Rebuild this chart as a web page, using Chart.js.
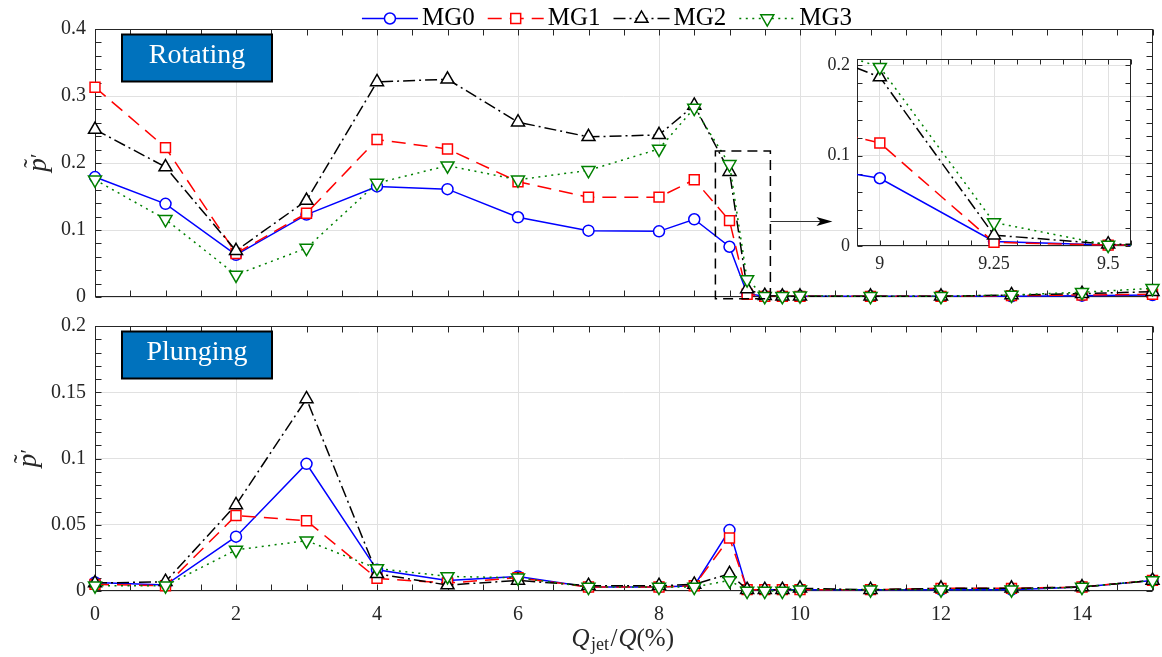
<!DOCTYPE html>
<html><head><meta charset="utf-8">
<script src="https://cdn.jsdelivr.net/npm/chart.js@4.4.1/dist/chart.umd.min.js"></script>
<style>
html,body{margin:0;padding:0;background:#fff;}
#wrap{position:relative;width:1162px;height:657px;overflow:hidden;background:#fff;}
canvas{position:absolute;}
</style></head><body>
<div id="wrap">
<canvas id="top" width="1162" height="318" style="left:0;top:0;width:1162px;height:318px"></canvas>
<canvas id="bot" width="1162" height="352" style="left:0;top:305px;width:1162px;height:352px"></canvas>
<canvas id="ins" width="365" height="240" style="left:790px;top:40px;width:365px;height:240px"></canvas>
</div>
<script>
// ---------------- data ----------------
const Q_JET = [0,1,2,3,4,5,6,7,8,8.5,9,9.25,9.5,9.75,10,11,12,13,14,15];
const SERIES_NAMES = ['MG0','MG1','MG2','MG3'];

const ROT_MG0 = [0.179,0.139,0.063,0.123,0.165,0.161,0.119,0.099,0.098,0.116,0.075,0.005,0.001,0.001,0.001,0.001,0.001,0.001,0.002,0.003];
const ROT_MG1 = [0.313,0.223,0.065,0.125,0.235,0.221,0.172,0.149,0.149,0.175,0.114,0.004,0.001,0.001,0.001,0.001,0.001,0.002,0.003,0.004];
const ROT_MG2 = [0.250,0.194,0.069,0.144,0.321,0.325,0.261,0.239,0.242,0.286,0.187,0.012,0.002,0.001,0.001,0.001,0.001,0.003,0.005,0.008];
const ROT_MG3 = [0.175,0.116,0.033,0.073,0.170,0.196,0.175,0.189,0.221,0.282,0.198,0.026,0.001,0.001,0.002,0.001,0.001,0.003,0.007,0.013];

const PLU_MG0 = [0.0065,0.0045,0.041,0.096,0.016,0.008,0.011,0.003,0.003,0.004,0.046,0.001,0.001,0.001,0.001,0.001,0.001,0.001,0.003,0.008];
const PLU_MG1 = [0.005,0.004,0.057,0.053,0.0095,0.006,0.010,0.003,0.003,0.004,0.040,0.001,0.001,0.001,0.001,0.001,0.002,0.002,0.003,0.008];
const PLU_MG2 = [0.006,0.007,0.065,0.145,0.013,0.0045,0.008,0.004,0.004,0.005,0.013,0.001,0.001,0.001,0.002,0.001,0.002,0.002,0.003,0.008];
const PLU_MG3 = [0.004,0.004,0.031,0.038,0.017,0.011,0.010,0.003,0.003,0.003,0.008,0.000,0.000,0.000,0.001,0.001,0.001,0.001,0.003,0.008];

const X_TICKS = [0,2,4,6,8,10,12,14];
const X_LABELS = ['0','2','4','6','8','10','12','14'];
const ROT_Y_TICKS = [0,0.1,0.2,0.3,0.4];
const ROT_Y_LABELS = ['0','0.1','0.2','0.3','0.4'];
const PLU_Y_TICKS = [0,0.05,0.1,0.15,0.2];
const PLU_Y_LABELS = ['0','0.05','0.1','0.15','0.2'];
const INSET_X_TICKS = [9,9.25,9.5];
const INSET_X_LABELS = ['9','9.25','9.5'];
const INSET_Y_TICKS = [0,0.1,0.2];
const INSET_Y_LABELS = ['0','0.1','0.2'];

const PANEL_TITLES = ['Rotating','Plunging'];
// zoom box (data units of the top panel) and arrow
const ZOOM_BOX = {x0: 8.8, x1: 9.58, y0: -0.0025, y1: 0.218};
const ZOOM_ARROW = {x0: 9.58, x1: 10.46, y: 0.113};

// ---------------- styles ----------------
const FONT = "'Liberation Serif', 'Times New Roman', serif";
const AXIS_COLOR = '#262626';
const GRID_COLOR = '#e1e1e1';
const STYLES = [
  {color:'#0000FF', dash:[],           point:'circle',   radius:5.5, rot:0},
  {color:'#FF0000', dash:[14,8],       point:'rect',     radius:7,   rot:0},
  {color:'#000000', dash:[12,4,2,4],   point:'triangle', radius:7.5, rot:0},
  {color:'#008000', dash:[2,4.5],      point:'triangle', radius:7.5, rot:180}
];

Chart.defaults.font.family = FONT;
Chart.defaults.color = AXIS_COLOR;

function buildDatasets(valuesList, clip) {
  return STYLES.map((s, i) => ({
    label: SERIES_NAMES[i],
    data: Q_JET.map((x, j) => ({x: x, y: valuesList[i][j]})),
    borderColor: s.color, backgroundColor: '#fff', borderWidth: 1.5, borderDash: s.dash,
    pointStyle: s.point, pointRadius: s.radius, pointRotation: s.rot,
    pointBorderColor: s.color, pointBackgroundColor: '#fff', pointBorderWidth: 1.5,
    tension: 0, fill: false, clip: clip, order: 3 - i
  }));
}

function linScale(min, max, ticks, labels, o) {
  return {
    type: 'linear', min: min, max: max,
    afterBuildTicks: s => { s.ticks = ticks.map(v => ({value: v})); },
    afterFit: s => { if (o.size != null) { if (s.isHorizontal()) s.height = o.size; else s.width = o.size; } },
    grid: {color: GRID_COLOR, lineWidth: 1, drawTicks: false},
    border: {display: false},
    ticks: {
      display: o.showLabels !== false, autoSkip: false, maxRotation: 0, minRotation: 0,
      padding: o.padding || 8, color: AXIS_COLOR,
      font: {family: FONT, size: o.fontSize || 20},
      callback: (v) => { const k = ticks.indexOf(v); return k >= 0 ? labels[k] : ''; }
    }
  };
}

function drawFrame(chart, xMinor, yMinor, len) {
  const ctx = chart.ctx, a = chart.chartArea, xs = chart.scales.x, ys = chart.scales.y;
  ctx.save();
  ctx.strokeStyle = AXIS_COLOR; ctx.lineWidth = 1; ctx.setLineDash([]);
  const L = Math.round(a.left) + 0.5, R = Math.round(a.right) - 0.5;
  const T = Math.round(a.top) + 0.5, B = Math.round(a.bottom) - 0.5;
  ctx.strokeRect(L, T, R - L, B - T);
  ctx.beginPath();
  let first = Math.ceil(xs.min / xMinor - 1e-6) * xMinor;
  for (let i = 0, v = first; v <= xs.max + 1e-9; i++, v = first + i * xMinor) {
    const px = Math.round(xs.getPixelForValue(v)) + 0.5;
    ctx.moveTo(px, B); ctx.lineTo(px, B - len);
    ctx.moveTo(px, T); ctx.lineTo(px, T + len);
  }
  first = Math.ceil(ys.min / yMinor - 1e-6) * yMinor;
  for (let i = 0, v = first; v <= ys.max + 1e-9; i++, v = first + i * yMinor) {
    const py = Math.round(ys.getPixelForValue(v)) + 0.5;
    ctx.moveTo(L, py); ctx.lineTo(L + len, py);
    ctx.moveTo(R, py); ctx.lineTo(R - len, py);
  }
  ctx.stroke();
  ctx.restore();
}

function drawTag(chart, text) {
  const ctx = chart.ctx, a = chart.chartArea;
  const x = a.left + 27, y = a.top + 5.5, w = 150, h = 47;
  ctx.save();
  ctx.fillStyle = '#0072BD';
  ctx.fillRect(x, y, w, h);
  ctx.strokeStyle = '#000'; ctx.lineWidth = 2; ctx.setLineDash([]);
  ctx.strokeRect(x, y, w, h);
  ctx.fillStyle = '#fff';
  ctx.font = '28px ' + FONT;
  ctx.textAlign = 'center'; ctx.textBaseline = 'alphabetic';
  ctx.fillText(text, x + w / 2, y + 28.5);
  ctx.restore();
}

function drawYTitle(chart, dx) {
  const ctx = chart.ctx, a = chart.chartArea;
  const bx = a.left + dx, cy = (a.top + a.bottom) / 2 + 2;
  ctx.save();
  ctx.translate(bx, cy);
  ctx.rotate(-Math.PI / 2);
  ctx.fillStyle = '#262626';
  ctx.textBaseline = 'alphabetic';
  ctx.textAlign = 'center';
  ctx.font = 'italic 27px ' + FONT;
  ctx.fillText('p', 0, 0);
  ctx.font = '26px ' + FONT;
  ctx.fillText('\u02DC', 1.5, -5);
  ctx.font = '20px ' + FONT;
  ctx.textAlign = 'left';
  ctx.fillText('\u2032', 7, -1);
  ctx.restore();
}

function drawMarker(ctx, s, x, y) {
  ctx.beginPath();
  const r = s.radius;
  if (s.point === 'circle') {
    ctx.arc(x, y, r, 0, Math.PI * 2);
  } else if (s.point === 'rect') {
    const h = Math.SQRT1_2 * r;
    ctx.rect(x - h, y - h, 2 * h, 2 * h);
  } else {
    let rad = s.rot * Math.PI / 180;
    ctx.moveTo(x + Math.sin(rad) * r, y - Math.cos(rad) * r);
    rad += 2 * Math.PI / 3;
    ctx.lineTo(x + Math.sin(rad) * r, y - Math.cos(rad) * r);
    rad += 2 * Math.PI / 3;
    ctx.lineTo(x + Math.sin(rad) * r, y - Math.cos(rad) * r);
    ctx.closePath();
  }
  ctx.fill(); ctx.stroke();
}

function drawLegend(chart) {
  const ctx = chart.ctx;
  ctx.save();
  ctx.font = '25px ' + FONT;
  const lineLen = 56, gapTxt = 4, gapItem = 13;
  const widths = SERIES_NAMES.map(n => ctx.measureText(n).width);
  let total = 0;
  widths.forEach((w, i) => { total += lineLen + gapTxt + w + (i < widths.length - 1 ? gapItem : 0); });
  let x = 607 - total / 2;
  const ly = 18.5, ty = 25;
  SERIES_NAMES.forEach((n, i) => {
    const s = STYLES[i];
    ctx.strokeStyle = s.color; ctx.lineWidth = 1.5; ctx.setLineDash(s.dash);
    ctx.beginPath(); ctx.moveTo(x, ly); ctx.lineTo(x + lineLen, ly); ctx.stroke();
    ctx.setLineDash([]); ctx.fillStyle = '#fff';
    drawMarker(ctx, s, x + lineLen / 2, ly);
    ctx.fillStyle = '#000'; ctx.textAlign = 'left'; ctx.textBaseline = 'alphabetic';
    ctx.fillText(n, x + lineLen + gapTxt, ty);
    x += lineLen + gapTxt + widths[i] + gapItem;
  });
  ctx.restore();
}

function drawZoomBox(chart) {
  const ctx = chart.ctx, xs = chart.scales.x, ys = chart.scales.y;
  const x0 = xs.getPixelForValue(ZOOM_BOX.x0), x1 = xs.getPixelForValue(ZOOM_BOX.x1);
  const y0 = ys.getPixelForValue(ZOOM_BOX.y0), y1 = ys.getPixelForValue(ZOOM_BOX.y1);
  ctx.save();
  ctx.strokeStyle = '#000'; ctx.lineWidth = 1.5; ctx.setLineDash([10, 6]);
  ctx.strokeRect(x0, y1, x1 - x0, y0 - y1);
  ctx.setLineDash([]);
  const ax0 = xs.getPixelForValue(ZOOM_ARROW.x0), ax1 = xs.getPixelForValue(ZOOM_ARROW.x1);
  const ay = Math.round(ys.getPixelForValue(ZOOM_ARROW.y)) + 0.5;
  ctx.strokeStyle = '#333'; ctx.lineWidth = 1;
  ctx.beginPath(); ctx.moveTo(ax0, ay); ctx.lineTo(ax1 - 10, ay); ctx.stroke();
  ctx.fillStyle = '#000';
  ctx.beginPath();
  ctx.moveTo(ax1, ay); ctx.lineTo(ax1 - 16, ay - 4.5); ctx.lineTo(ax1 - 12, ay); ctx.lineTo(ax1 - 16, ay + 4.5);
  ctx.closePath(); ctx.fill();
  ctx.restore();
}

function drawXTitle(chart) {
  const ctx = chart.ctx, a = chart.chartArea;
  const cx = (a.left + a.right) / 2 - 1, by = a.bottom + 55;
  const parts = [
    {t:'Q', f:'italic 25px ' + FONT, dy:0},
    {t:'jet', f:'18px ' + FONT, dy:3.5},
    {t:'/', f:'25px ' + FONT, dy:0},
    {t:'Q', f:'italic 25px ' + FONT, dy:0},
    {t:'(%)', f:'25px ' + FONT, dy:0}
  ];
  ctx.save();
  ctx.fillStyle = '#262626'; ctx.textAlign = 'left'; ctx.textBaseline = 'alphabetic';
  let total = 0;
  parts.forEach(p => { ctx.font = p.f; p.w = ctx.measureText(p.t).width; total += p.w; });
  total += 4;
  let x = cx - total / 2;
  parts.forEach((p, i) => { ctx.font = p.f; ctx.fillText(p.t, x, by + p.dy); x += p.w + (i <= 1 ? 1.5 : 0) + (i === 2 ? 1 : 0); });
  ctx.restore();
}

const baseOpts = {
  responsive: false, animation: false, devicePixelRatio: 1, events: [],
  plugins: {legend: {display: false}, tooltip: {enabled: false}}
};

// ---------------- top panel ----------------
new Chart(document.getElementById('top'), {
  type: 'line',
  data: {datasets: buildDatasets([ROT_MG0, ROT_MG1, ROT_MG2, ROT_MG3], false)},
  options: Object.assign({}, baseOpts, {
    layout: {padding: {top: 29, right: 9.5, bottom: 19, left: 0}},
    scales: {
      x: linScale(0, 15, X_TICKS, X_LABELS, {size: 0, showLabels: false}),
      y: linScale(0, 0.4, ROT_Y_TICKS, ROT_Y_LABELS, {size: 95, padding: 9})
    }
  }),
  plugins: [{
    id: 'topDeco',
    beforeDatasetsDraw(chart) { drawFrame(chart, 0.5, 0.02, 6); },
    afterDraw(chart) {
      drawZoomBox(chart);
      drawTag(chart, PANEL_TITLES[0]);
      drawYTitle(chart, -49);
      drawLegend(chart);
    }
  }]
});

// ---------------- bottom panel ----------------
new Chart(document.getElementById('bot'), {
  type: 'line',
  data: {datasets: buildDatasets([PLU_MG0, PLU_MG1, PLU_MG2, PLU_MG3], false)},
  options: Object.assign({}, baseOpts, {
    layout: {padding: {top: 19, right: 9.5, bottom: 0, left: 0}},
    scales: {
      x: linScale(0, 15, X_TICKS, X_LABELS, {size: 66, padding: 12}),
      y: linScale(0, 0.2, PLU_Y_TICKS, PLU_Y_LABELS, {size: 95, padding: 9})
    }
  }),
  plugins: [{
    id: 'botDeco',
    beforeDatasetsDraw(chart) { drawFrame(chart, 0.5, 0.01, 6); },
    afterDraw(chart) {
      drawTag(chart, PANEL_TITLES[1]);
      drawYTitle(chart, -59);
      drawXTitle(chart);
    }
  }]
});

// ---------------- inset ----------------
new Chart(document.getElementById('ins'), {
  type: 'line',
  data: {datasets: buildDatasets([ROT_MG0, ROT_MG1, ROT_MG2, ROT_MG3], {left: 0, right: 0, top: 10, bottom: 10})},
  options: Object.assign({}, baseOpts, {
    layout: {padding: {top: 19, right: 24, bottom: 0, left: 0}},
    scales: {
      x: linScale(8.95, 9.55, INSET_X_TICKS, INSET_X_LABELS, {size: 34, padding: 7, fontSize: 18}),
      y: linScale(0, 0.207, INSET_Y_TICKS, INSET_Y_LABELS, {size: 67, padding: 7, fontSize: 18})
    }
  }),
  plugins: [{
    id: 'insDeco',
    beforeDatasetsDraw(chart) { drawFrame(chart, 0.05, 0.02, 5); }
  }]
});
</script>
</body></html>
